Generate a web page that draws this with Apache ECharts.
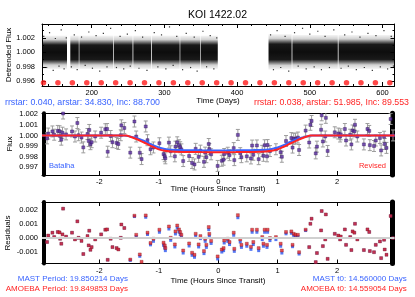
<!DOCTYPE html>
<html><head><meta charset="utf-8">
<script src="https://cdn.jsdelivr.net/npm/echarts@6/dist/echarts.min.js"></script>
<style>html,body{margin:0;padding:0;background:#fff}#c{width:415px;height:297px}</style>
</head><body><div id="c"></div>
<script>
const FONT = '"Liberation Sans", Arial, Helvetica, sans-serif';
const BLUE = '#3a64ff';
const RED = '#ff2424';

// ---------- Top panel: detrended light curve ----------
const dayRange = [131.6, 616.5];
const fluxRangeTop = [0.99535, 1.0039];
const dayTicks = [200, 300, 400, 500, 600];
const dayMinorTicks = [140, 160, 180, 220, 240, 260, 280, 320, 340, 360, 380, 420, 440, 460, 480, 520, 540, 560, 580];
const fluxTicksTop = [0.996, 0.998, 1.000, 1.002];
const fluxMinorTicksTop = [0.997, 0.999, 1.001, 1.003];
// observed data segments (days) between gaps
const segStart = [131.7, 170.5, 183.0, 230.5, 257.2, 282.6, 321.8, 349.8, 443.2, 476.0, 539.5];
const segEnd   = [166.0, 182.2, 229.6, 256.2, 281.6, 321.0, 349.0, 373.4, 475.0, 538.5, 616.5];
// flux envelope of the dense photometry in each segment (low, high)
const bandLow  = [0.9977, 0.9977, 0.9977, 0.9977, 0.9977, 0.9977, 0.9977, 0.9977, 0.9976, 0.9977, 0.9977];
const bandHigh = [1.0023, 1.0023, 1.0023, 1.0023, 1.0023, 1.0023, 1.0023, 1.0023, 1.0025, 1.0024, 1.0024];
// scattered photometric outliers [day, flux]
const outlierDay = [134,138,142,147,150,155,158,162,165,172,176,180,186,191,196,201,206,211,216,221,226,234,239,244,249,253,260,265,270,276,286,291,296,302,307,312,317,325,330,336,341,345,353,358,363,368,372,446,450,455,460,466,471,479,484,490,495,500,506,511,516,521,527,533,543,548,553,558,564,569,575,580,586,591,597,602,607,612,615];
const outlierFlux = [1.0022,0.9979,1.0027,0.9975,1.0019,0.9981,1.0031,0.9977,1.0020,0.9980,1.0024,0.9976,1.0021,0.9982,1.0028,0.9978,1.0023,0.9974,1.0026,0.9980,1.0033,0.9979,1.0022,0.9977,1.0025,0.9981,1.0030,0.9978,1.0021,0.9975,1.0027,0.9980,1.0024,0.9977,1.0035,0.9982,1.0022,0.9976,1.0026,0.9979,1.0021,0.9974,1.0029,0.9980,1.0023,0.9977,1.0020,1.0024,0.9976,1.0030,0.9979,1.0022,0.9974,1.0027,0.9981,1.0033,0.9977,1.0025,0.9980,1.0029,0.9976,1.0022,0.9979,1.0031,0.9978,1.0024,0.9981,1.0028,0.9976,1.0021,0.9979,1.0026,0.9975,1.0023,0.9980,1.0030,0.9977,1.0022,0.9981];
// predicted transit times (days)
const transitDays = [133.66,153.51,173.36,193.21,213.06,232.91,252.76,272.61,292.46,312.31,332.16,352.01,371.86,391.71,411.56,431.41,451.26,471.11,490.96,510.81,530.66,550.51,570.36,590.21,610.06];
const transitMarkerFlux = 0.9958;

// ---------- Middle / bottom panels: folded transit ----------
const hourRange = [-2.965, 2.965];
const hourTicks = [-2, -1, 0, 1, 2];
const fluxRangeMid = [0.99625, 1.0021];
const fluxTicksMid = [0.997, 0.998, 0.999, 1.000, 1.001, 1.002];
const residRange = [-0.0018, 0.00255];
const residTicks = [-0.001, 0.000, 0.001, 0.002];
const fluxErr = 0.00052;

const hours = [-2.88,-2.86,-2.79,-2.76,-2.70,-2.67,-2.66,-2.64,-2.62,-2.61,-2.56,-2.46,-2.41,-2.37,-2.35,-2.30,-2.27,-2.20,-2.18,-2.17,-2.15,-2.13,-2.07,-1.97,-1.90,-1.87,-1.86,-1.81,-1.78,-1.71,-1.68,-1.64,-1.63,-1.58,-1.48,-1.41,-1.38,-1.32,-1.29,-1.22,-1.19,-1.14,-1.09,-0.99,-0.92,-0.90,-0.89,-0.83,-0.80,-0.73,-0.72,-0.69,-0.66,-0.64,-0.62,-0.59,-0.49,-0.44,-0.40,-0.38,-0.33,-0.30,-0.24,-0.22,-0.20,-0.16,-0.15,-0.12,-0.01,0.06,0.09,0.10,0.16,0.19,0.26,0.27,0.33,0.37,0.39,0.48,0.55,0.57,0.59,0.65,0.68,0.74,0.76,0.78,0.82,0.83,0.87,0.97,1.05,1.07,1.14,1.23,1.25,1.27,1.30,1.34,1.36,1.47,1.53,1.55,1.57,1.64,1.66,1.73,1.74,1.76,1.80,1.81,1.84,1.96,2.02,2.05,2.06,2.13,2.15,2.22,2.24,2.26,2.29,2.30,2.34,2.45,2.51,2.54,2.55,2.62,2.65,2.72,2.74,2.79,2.80,2.83,2.90,2.94];
const flux = [0.99972,1.00018,1.00038,1.00007,1.00043,1.00040,0.99995,0.99960,1.00026,1.00208,1.00010,1.00038,0.99990,1.00118,1.00002,0.99980,0.99887,1.00014,0.99948,1.00052,0.99917,0.99936,0.99990,1.00026,1.00059,1.00061,0.99846,0.99995,0.99936,0.99929,0.99919,1.00002,1.00096,1.00071,0.99837,1.00132,0.99990,0.99836,0.99776,1.00085,0.99955,0.99869,0.99886,0.99926,0.99823,0.99803,0.99783,0.99932,0.99850,0.99802,0.99894,0.99935,0.99907,0.99888,0.99868,0.99757,0.99805,0.99739,0.99725,0.99873,0.99797,0.99856,0.99750,0.99837,0.99794,0.99919,0.99871,0.99821,0.99711,0.99760,0.99770,0.99824,0.99836,0.99813,0.99880,0.99766,1.00005,0.99832,0.99794,0.99802,0.99782,0.99904,0.99817,0.99905,0.99775,0.99854,0.99807,0.99907,0.99802,0.99909,0.99852,0.99869,0.99841,0.99798,0.99947,0.99975,0.99885,0.99969,0.99970,0.99980,0.99862,1.00046,0.99933,1.00101,1.00137,0.99830,0.99894,1.00054,1.00191,0.99943,0.99990,1.00167,0.99853,1.00030,1.00018,0.99990,1.00011,1.00061,0.99952,1.00007,0.99915,1.00047,1.00038,1.00101,0.99990,0.99915,1.00061,1.00043,0.99908,0.99900,0.99952,0.99976,0.99858,0.99988,0.99919,0.99882,1.00156,1.00000];
const residRed = [-0.00028,0.00018,0.00038,0.00007,0.00043,0.00040,-0.00005,-0.00040,0.00026,0.00208,0.00010,0.00038,-0.00010,0.00118,0.00002,-0.00020,-0.00113,0.00014,-0.00052,0.00052,-0.00083,-0.00064,-0.00010,0.00026,0.00059,0.00061,-0.00154,-0.00005,-0.00064,-0.00071,-0.00081,0.00002,0.00096,0.00071,-0.00152,0.00158,0.00023,-0.00116,-0.00168,0.00160,0.00038,-0.00035,-0.00005,0.00059,-0.00033,-0.00052,-0.00071,0.00082,0.00002,-0.00045,0.00047,0.00089,0.00061,0.00043,0.00023,-0.00088,-0.00038,-0.00104,-0.00118,0.00030,-0.00045,0.00014,-0.00092,-0.00005,-0.00048,0.00078,0.00030,-0.00020,-0.00130,-0.00081,-0.00071,-0.00017,-0.00005,-0.00028,0.00038,-0.00076,0.00162,-0.00010,-0.00048,-0.00040,-0.00062,0.00059,-0.00028,0.00059,-0.00071,0.00007,-0.00040,0.00059,-0.00048,0.00059,0.00000,0.00007,-0.00040,-0.00088,0.00043,0.00047,-0.00048,0.00030,0.00023,0.00023,-0.00100,0.00059,-0.00064,0.00101,0.00137,-0.00170,-0.00106,0.00054,0.00191,-0.00057,-0.00010,0.00167,-0.00147,0.00030,0.00018,-0.00010,0.00011,0.00061,-0.00048,0.00007,-0.00085,0.00047,0.00038,0.00101,-0.00010,-0.00085,0.00061,0.00043,-0.00092,-0.00100,-0.00048,-0.00024,-0.00142,-0.00012,-0.00081,-0.00118,0.00156,0.00000];
const residBlue = [-0.00028,0.00018,0.00038,0.00007,0.00043,0.00040,-0.00005,-0.00040,0.00026,0.00208,0.00010,0.00038,-0.00010,0.00118,0.00002,-0.00020,-0.00113,0.00014,-0.00052,0.00052,-0.00083,-0.00064,-0.00010,0.00026,0.00059,0.00061,-0.00154,-0.00005,-0.00064,-0.00071,-0.00081,0.00002,0.00096,0.00071,-0.00158,0.00152,0.00010,-0.00129,-0.00181,0.00147,0.00025,-0.00048,-0.00023,0.00041,-0.00051,-0.00070,-0.00089,0.00064,-0.00016,-0.00063,0.00029,0.00071,0.00043,0.00025,0.00005,-0.00106,-0.00056,-0.00122,-0.00136,0.00012,-0.00063,-0.00004,-0.00110,-0.00023,-0.00066,0.00060,0.00012,-0.00038,-0.00148,-0.00099,-0.00089,-0.00035,-0.00023,-0.00046,0.00020,-0.00094,0.00144,-0.00028,-0.00066,-0.00058,-0.00080,0.00041,-0.00046,0.00041,-0.00089,-0.00011,-0.00058,0.00041,-0.00066,0.00041,-0.00018,-0.00011,-0.00058,-0.00106,0.00030,0.00034,-0.00061,0.00017,0.00010,0.00010,-0.00113,0.00053,-0.00064,0.00101,0.00137,-0.00170,-0.00106,0.00054,0.00191,-0.00057,-0.00010,0.00167,-0.00147,0.00030,0.00018,-0.00010,0.00011,0.00061,-0.00048,0.00007,-0.00085,0.00047,0.00038,0.00101,-0.00010,-0.00085,0.00061,0.00043,-0.00092,-0.00100,-0.00048,-0.00024,-0.00142,-0.00012,-0.00081,-0.00118,0.00156,0.00000];

// transit models (hours, flux)
const modelRevisedH = [-2.965,-1.55,-1.48,-1.40,-1.30,-1.20,-1.10,-1.00,-0.90,-0.80,-0.60,-0.30,0.00,0.30,0.60,0.80,0.90,1.00,1.10,1.20,1.30,1.40,1.48,1.55,2.965];
const modelRevisedF = [1.00000,1.00000,0.99988,0.99971,0.99947,0.99920,0.99893,0.99868,0.99854,0.99848,0.99844,0.99842,0.99841,0.99842,0.99844,0.99848,0.99854,0.99868,0.99893,0.99920,0.99947,0.99971,0.99988,1.00000,1.00000];
const modelBatalhaH = [-2.965,-1.58,-1.50,-1.40,-1.30,-1.20,-1.10,-1.00,-0.90,-0.80,-0.60,-0.30,0.00,0.30,0.60,0.80,0.90,1.00,1.10,1.20,1.30,1.40,1.50,1.58,2.965];
const modelBatalhaF = [1.00000,1.00000,0.99993,0.99978,0.99960,0.99936,0.99908,0.99886,0.99872,0.99865,0.99861,0.99859,0.99858,0.99859,0.99861,0.99865,0.99872,0.99886,0.99908,0.99936,0.99960,0.99978,0.99993,1.00000,1.00000];

const zip = (a, b) => a.map((v, i) => [v, b[i]]);

// ---------- axes ----------
const grids = [
  {left: 42, right: 20.5, top: 24, height: 62},
  {left: 42, right: 20.5, top: 113.3, height: 61.7},
  {left: 42, right: 20.5, top: 202, height: 61.5}
];
const xAxes = [], yAxes = [];
const axisLineStyle = {color: '#000', width: 1};
function addAxes(g, c) {
  const xb = {gridIndex: g, type: 'value', min: c.xr[0], max: c.xr[1], splitLine: {show: false},
    axisLine: {onZero: false, lineStyle: axisLineStyle}};
  const yb = {gridIndex: g, type: 'value', min: c.yr[0], max: c.yr[1], splitLine: {show: false},
    axisLine: {onZero: false, lineStyle: axisLineStyle}};
  const idx = {x: xAxes.length, y: yAxes.length};
  xAxes.push(Object.assign({}, xb, {position: 'bottom',
    axisTick: {inside: true, length: 4, customValues: c.xMaj, lineStyle: axisLineStyle},
    axisLabel: {customValues: c.xMaj, fontSize: 7.5, color: '#000', fontFamily: FONT, margin: c.xMargin}}));
  xAxes.push(Object.assign({}, xb, {position: 'top',
    axisTick: {inside: true, length: 4, customValues: c.xMaj, lineStyle: axisLineStyle}, axisLabel: {show: false}}));
  if (c.xMin) {
    ['bottom', 'top'].forEach(p => xAxes.push(Object.assign({}, xb, {position: p, axisLine: {show: false, onZero: false},
      axisTick: {inside: true, length: 2, customValues: c.xMin, lineStyle: axisLineStyle}, axisLabel: {show: false}})));
  }
  yAxes.push(Object.assign({}, yb, {position: 'left',
    axisTick: {inside: true, length: 4, customValues: c.yMaj, lineStyle: axisLineStyle},
    axisLabel: {customValues: c.yMaj, fontSize: 7.5, color: '#000', fontFamily: FONT, margin: c.yMargin,
      formatter: v => v.toFixed(3)}}));
  yAxes.push(Object.assign({}, yb, {position: 'right',
    axisTick: {inside: true, length: 4, customValues: c.yMaj, lineStyle: axisLineStyle}, axisLabel: {show: false}}));
  if (c.yMin) {
    ['left', 'right'].forEach(p => yAxes.push(Object.assign({}, yb, {position: p, axisLine: {show: false, onZero: false},
      axisTick: {inside: true, length: 2, customValues: c.yMin, lineStyle: axisLineStyle}, axisLabel: {show: false}})));
  }
  if (c.bars) {
    yAxes.push(Object.assign({}, yb, {position: 'left', offset: -2,
      axisLine: {onZero: false, lineStyle: {color: '#000', width: 4}}, axisTick: {show: false}, axisLabel: {show: false}}));
    yAxes.push(Object.assign({}, yb, {position: 'right', offset: -2.5,
      axisLine: {onZero: false, lineStyle: {color: '#000', width: 5}}, axisTick: {show: false}, axisLabel: {show: false}}));
  }
  return idx;
}
const a0 = addAxes(0, {xr: dayRange, yr: fluxRangeTop, xMaj: dayTicks, xMin: dayMinorTicks, yMaj: fluxTicksTop, yMin: fluxMinorTicksTop, xMargin: 3, yMargin: 7});
const a1 = addAxes(1, {xr: hourRange, yr: fluxRangeMid, xMaj: hourTicks, yMaj: fluxTicksMid, xMargin: 3, yMargin: 4, bars: true});
const a2 = addAxes(2, {xr: hourRange, yr: residRange, xMaj: hourTicks, yMaj: residTicks, xMargin: 3, yMargin: 4, bars: true});

// ---------- series ----------
const bandFill = new echarts.graphic.LinearGradient(0, 0, 0, 1, [
  {offset: 0.00, color: 'rgba(0,0,0,0.04)'},
  {offset: 0.12, color: 'rgba(0,0,0,0.18)'},
  {offset: 0.20, color: 'rgba(0,0,0,0.55)'},
  {offset: 0.28, color: 'rgba(0,0,0,0.90)'},
  {offset: 0.50, color: 'rgba(0,0,0,0.95)'},
  {offset: 0.72, color: 'rgba(0,0,0,0.90)'},
  {offset: 0.80, color: 'rgba(0,0,0,0.55)'},
  {offset: 0.88, color: 'rgba(0,0,0,0.18)'},
  {offset: 1.00, color: 'rgba(0,0,0,0.04)'}
]);

const series = [
  {type: 'custom', xAxisIndex: a0.x, yAxisIndex: a0.y, clip: true, silent: true,
   data: segStart.map((s, i) => [s, segEnd[i], bandLow[i], bandHigh[i]]),
   renderItem: (params, api) => {
     const p1 = api.coord([api.value(0), api.value(3)]);
     const p2 = api.coord([api.value(1), api.value(2)]);
     return {type: 'rect', shape: {x: p1[0], y: p1[1], width: p2[0] - p1[0], height: p2[1] - p1[1]}, style: {fill: bandFill}};
   }},
  {type: 'scatter', xAxisIndex: a0.x, yAxisIndex: a0.y, symbol: 'rect', symbolSize: 1.2,
   itemStyle: {color: '#000'}, data: zip(outlierDay, outlierFlux), silent: true},
  {type: 'scatter', xAxisIndex: a0.x, yAxisIndex: a0.y, symbolSize: 5.5,
   itemStyle: {color: '#ff1a1a'}, data: transitDays.map(d => [d, transitMarkerFlux]), silent: true},

  // error bars
  {type: 'custom', xAxisIndex: a1.x, yAxisIndex: a1.y, clip: true, silent: true,
   data: hours.map((h, i) => [h, flux[i] - fluxErr, flux[i] + fluxErr]),
   renderItem: (params, api) => {
     const lo = api.coord([api.value(0), api.value(1)]);
     const hi = api.coord([api.value(0), api.value(2)]);
     const st = {stroke: '#9c9c9c', lineWidth: 1};
     return {type: 'group', children: [
       {type: 'line', shape: {x1: lo[0], y1: lo[1], x2: hi[0], y2: hi[1]}, style: st},
       {type: 'line', shape: {x1: lo[0] - 2, y1: lo[1], x2: lo[0] + 2, y2: lo[1]}, style: st},
       {type: 'line', shape: {x1: hi[0] - 2, y1: hi[1], x2: hi[0] + 2, y2: hi[1]}, style: st}
     ]};
   }},
  {type: 'scatter', xAxisIndex: a1.x, yAxisIndex: a1.y, symbol: 'rect', symbolSize: 3,
   itemStyle: {color: '#5e2fa8', borderColor: '#2a1050', borderWidth: 0.5}, data: zip(hours, flux), silent: true},
  {type: 'line', xAxisIndex: a1.x, yAxisIndex: a1.y, showSymbol: false, smooth: 0.3, silent: true,
   lineStyle: {color: BLUE, width: 2}, data: zip(modelBatalhaH, modelBatalhaF)},
  {type: 'line', xAxisIndex: a1.x, yAxisIndex: a1.y, showSymbol: false, smooth: 0.3, silent: true,
   lineStyle: {color: RED, width: 2}, data: zip(modelRevisedH, modelRevisedF)},

  // residuals
  {type: 'scatter', xAxisIndex: a2.x, yAxisIndex: a2.y, data: [], z: 1, silent: true,
   markLine: {silent: true, symbol: 'none', label: {show: false}, lineStyle: {color: '#d0d0d0', width: 2, type: 'solid'},
     data: [{yAxis: 0}], animation: false}},
  {type: 'scatter', xAxisIndex: a2.x, yAxisIndex: a2.y, symbol: 'rect', symbolSize: 3,
   itemStyle: {color: '#2a55f0'}, data: zip(hours, residBlue), silent: true},
  {type: 'scatter', xAxisIndex: a2.x, yAxisIndex: a2.y, symbol: 'rect', symbolSize: 3,
   itemStyle: {color: '#e0202a', borderColor: '#7a1010', borderWidth: 0.4}, data: zip(hours, residRed), silent: true}
];

// ---------- texts ----------
function txt(text, x, y, opt) {
  return {type: 'text', x: x, y: y, silent: true,
    style: Object.assign({text: text, fontFamily: FONT, fontSize: 8, fill: '#000', textAlign: 'center', textVerticalAlign: 'middle'}, opt || {})};
}
function vtxt(text, x, y) {
  return {type: 'text', x: x, y: y, rotation: Math.PI / 2, silent: true,
    style: {text: text, fontFamily: FONT, fontSize: 8, fill: '#000', textAlign: 'center', textVerticalAlign: 'middle'}};
}
const graphic = [
  txt('KOI 1422.02', 217.5, 15.5, {fontSize: 10.5}),
  vtxt('Detrended Flux', 8.8, 55),
  txt('Time (Days)', 218, 100.5),
  txt('rrstar: 0.040, arstar: 34.830, Inc: 88.700', 5, 103, {fontSize: 8.8, fill: BLUE, textAlign: 'left'}),
  txt('rrstar: 0.038, arstar: 51.985, Inc: 89.553', 409, 103, {fontSize: 8.8, fill: RED, textAlign: 'right'}),
  vtxt('Flux', 10, 144),
  txt('Batalha', 49, 165.5, {fontSize: 7.5, fill: BLUE, textAlign: 'left'}),
  txt('Revised', 386, 165.5, {fontSize: 7.5, fill: RED, textAlign: 'right'}),
  txt('Time (Hours Since Transit)', 218, 189),
  vtxt('Residuals', 7.5, 233),
  txt('Time (Hours Since Transit)', 218, 281),
  txt('MAST Period: 19.850214 Days', 128, 278.5, {fill: BLUE, textAlign: 'right'}),
  txt('AMOEBA Period: 19.849853 Days', 128, 288.5, {fill: RED, textAlign: 'right'}),
  txt('MAST t0: 14.560000 Days', 406.7, 278.5, {fill: BLUE, textAlign: 'right'}),
  txt('AMOEBA t0: 14.559054 Days', 406.7, 288.5, {fill: RED, textAlign: 'right'})
];

const chart = echarts.init(document.getElementById('c'), null, {renderer: 'canvas'});
chart.setOption({
  animation: false,
  backgroundColor: '#fff',
  grid: grids,
  xAxis: xAxes,
  yAxis: yAxes,
  series: series,
  graphic: graphic
});
</script>
</body></html>
